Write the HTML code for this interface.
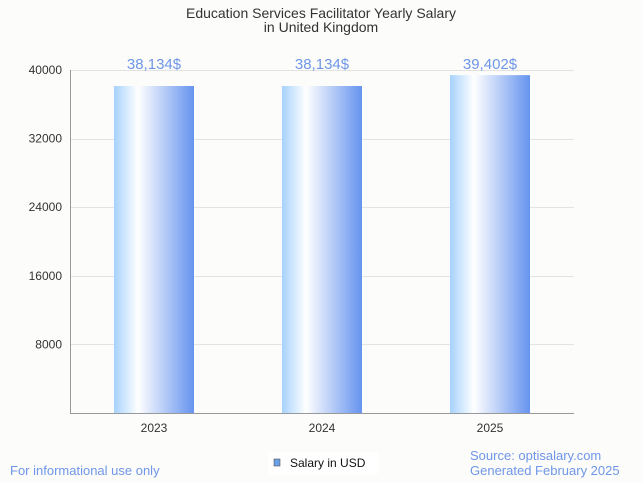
<!DOCTYPE html>
<html><head><meta charset="utf-8"><style>
body{margin:0;background:#fcfcfa;font-family:"Liberation Sans",sans-serif;}
svg{display:block}
</style></head><body>
<svg id="chart" width="643" height="483" xmlns="http://www.w3.org/2000/svg">
<defs><linearGradient id="bg" x1="0" x2="1" y1="0" y2="0">
<stop offset="0" stop-color="#a6d2fd"/><stop offset="0.3" stop-color="#ffffff"/><stop offset="1" stop-color="#6593ee"/></linearGradient></defs>
<rect width="643" height="483" fill="#fcfcfa"/>
<text x="321" y="18" text-anchor="middle" font-size="14" fill="#333">Education Services Facilitator Yearly Salary</text>
<text x="321" y="32" text-anchor="middle" font-size="14" fill="#333">in United Kingdom</text>
<g id="grid"></g><g id="bars"></g>
<line x1="70.5" y1="70" x2="70.5" y2="413" stroke="#999"/>
<line x1="70" y1="413.5" x2="574" y2="413.5" stroke="#999"/>
<text x="10" y="475" font-size="13" fill="#6f96e8">For informational use only</text>
<rect x="268" y="452" width="110" height="22" fill="#fff"/>
<rect x="274" y="459" width="6" height="7" fill="#6aa0e8" stroke="#555" stroke-width="0.6"/>
<text x="290" y="467" font-size="12" fill="#111">Salary in USD</text>
<text x="470" y="460" font-size="13" fill="#6f96e8">Source: optisalary.com</text>
<text x="470" y="475" font-size="13" fill="#6f96e8">Generated February 2025</text>
</svg>
<script>
const categories=["2023","2024","2025"];
const values=[38134,38134,39402];
const valueLabels=["38,134$","38,134$","39,402$"];
const yTicks=[8000,16000,24000,32000,40000];
const NS="http://www.w3.org/2000/svg";
const x0=70,x1=574,yTop=70,yBot=413,yMax=40000;
const band=(x1-x0)/categories.length;
const y=v=>yBot-(v/yMax)*(yBot-yTop);
const xc=i=>x0+band*(i+0.5);
function mk(tag,attrs,parent,txt){const e=document.createElementNS(NS,tag);for(const k in attrs)e.setAttribute(k,attrs[k]);if(txt!=null)e.textContent=txt;parent.appendChild(e);return e;}
const grid=document.getElementById('grid'),bars=document.getElementById('bars');
yTicks.forEach(t=>{
 const l=mk('line',{x1:x0,x2:x1,y1:Math.round(y(t))+0.5,y2:Math.round(y(t))+0.5,stroke:'#e2e2e2'},grid);
 
 
 const tx=mk('text',{x:x0-8,y:y(t)+4,'text-anchor':'end','font-size':12,fill:'#333'},grid,String(t));
 
 
});
categories.forEach((c,i)=>{
 const r=mk('rect',{x:xc(i)-40,y:y(values[i]),width:80,height:yBot-y(values[i]),fill:'url(#bg)'},bars);
 
 
 const v=mk('text',{x:xc(i),y:Math.max(y(values[i])-17,69),'text-anchor':'middle','font-size':15,fill:'#6f96e8'},bars,valueLabels[i]);
 
 
 const xl=mk('text',{x:xc(i),y:432,'text-anchor':'middle','font-size':12,fill:'#333'},bars,c);
 
 
});
</script>
</body></html>
